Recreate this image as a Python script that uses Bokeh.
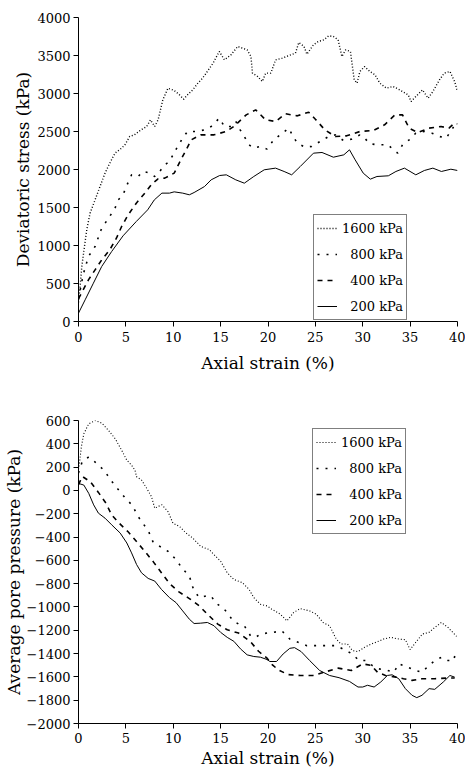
from bokeh.plotting import figure
from bokeh.layouts import column
from bokeh.models import Range1d, Legend, LegendItem, FixedTicker
from bokeh.embed import file_html
from bokeh.resources import INLINE

FONT = "DejaVu Serif"

# ---------------- data ----------------
series_labels = ["1600 kPa", "\u2007800 kPa", "\u2007400 kPa", "\u2007200 kPa"]
x_ticks = [0, 5, 10, 15, 20, 25, 30, 35, 40]
q_ticks = [0, 500, 1000, 1500, 2000, 2500, 3000, 3500, 4000]
u_ticks = [-2000, -1800, -1600, -1400, -1200, -1000, -800, -600, -400, -200, 0, 200, 400, 600]

# Deviatoric stress (kPa) vs axial strain (%)
q200_x = [0, 0.7, 1.57, 2.45, 3.5, 4.7, 6.1, 7.3, 8.0, 8.8, 9.6, 10.1, 11.0, 11.7, 12.2, 13.3, 14.0, 14.9,
          15.6, 16.6, 17.5, 18.5, 19.6, 20.8, 21.7, 22.5, 23.4, 24.8, 25.7, 26.9, 28.0, 28.6, 29.2, 30.05,
          30.8, 31.5, 32.7, 33.5, 34.4, 35.6, 36.5, 37.4, 38.3, 39.3, 40.0]
q200_y = [110, 285, 504, 724, 921, 1127, 1316, 1469, 1600, 1689, 1689, 1706, 1689, 1667, 1697, 1776, 1864, 1921,
          1930, 1864, 1820, 1908, 1996, 2018, 1974, 1930, 2039, 2215, 2224, 2162, 2193, 2259, 2127, 1952,
          1873, 1908, 1917, 1974, 2018, 1930, 1987, 2018, 1974, 2004, 1987]

q400_x = [0, 1.05, 1.75, 2.45, 3.3, 4.0, 4.55, 5.24, 6.1, 7.0, 7.76, 8.4, 9.1, 10.1, 10.8, 11.4, 11.9, 12.9,
          14.3, 15.6, 16.4, 17.7, 18.7, 19.75, 20.8, 21.85, 23.1, 24.3, 25.0, 26.0, 27.1, 28.3, 29.7, 31.1,
          32.3, 33.4, 34.2, 34.9, 35.8, 37.0, 38.25, 39.1, 39.65, 40.0]
q400_y = [300, 548, 680, 811, 943, 1096, 1250, 1403, 1557, 1689, 1811, 1877, 1886, 1952, 2127, 2268, 2390, 2456,
          2456, 2500, 2566, 2719, 2785, 2653, 2632, 2733, 2706, 2754, 2662, 2522, 2434, 2443, 2500, 2513,
          2588, 2719, 2719, 2544, 2487, 2544, 2566, 2544, 2610, 2600]

q800_x = [0, 0.5, 1.05, 1.75, 2.38, 3.15, 3.78, 4.2, 4.7, 5.17, 5.6, 6.3, 6.8, 7.34, 8.04, 8.57, 9.1, 9.6,
          10.07, 10.56, 11.0, 11.5, 12.4, 13.3, 14.0, 14.86, 15.4, 16.1, 16.6, 17.06, 17.5, 18.0, 18.5, 19.2,
          19.9, 20.6, 21.5, 22.2, 22.55, 23.1, 23.9, 24.6, 25.5, 26.4, 27.1, 27.96, 28.8, 29.7, 30.2, 30.75,
          31.6, 32.7, 33.2, 33.7, 34.2, 34.9, 35.6, 36.5, 37.3, 38.1, 38.8, 39.5, 39.8]
q800_y = [300, 620, 855, 987, 1206, 1360, 1469, 1601, 1667, 1811, 1930, 1908, 1974, 1960, 1908, 1974, 2061, 2105,
          2215, 2325, 2412, 2500, 2500, 2522, 2566, 2675, 2566, 2566, 2632, 2522, 2434, 2325, 2281, 2303,
          2268, 2390, 2478, 2544, 2456, 2346, 2294, 2303, 2368, 2434, 2456, 2381, 2399, 2456, 2412, 2338,
          2325, 2325, 2259, 2215, 2325, 2390, 2478, 2500, 2478, 2434, 2412, 2544, 2610]

q1600_x = [0, 0.17, 0.35, 0.63, 0.87, 1.22, 1.75, 2.27, 2.8, 3.3, 3.85, 4.55, 4.9, 5.4, 5.9, 6.6, 7.2, 7.6,
           8.04, 8.4, 8.9, 9.44, 10.1, 10.66, 11.1, 11.5, 12.06, 12.6, 13.1, 13.6, 14.2, 14.86, 15.4, 16.1,
           16.8, 17.3, 17.8, 18.2, 18.36, 18.9, 19.4, 19.75, 20.3, 20.8, 21.5, 22.4, 22.9, 23.25, 23.8, 24.1,
           24.8, 25.3, 25.9, 26.4, 26.9, 27.4, 27.8, 28.2, 28.7, 29.1, 29.4, 29.7, 30.2, 30.75, 31.3, 31.8,
           32.5, 33.2, 33.9, 34.8, 35.1, 35.6, 36.3, 36.9, 37.4, 38.1, 38.6, 39.2, 39.7, 40.0]
q1600_y = [250, 460, 724, 987, 1206, 1425, 1601, 1776, 1952, 2083, 2215, 2281, 2325, 2434, 2456, 2522, 2566, 2653,
           2566, 2653, 2917, 3070, 3040, 2982, 2925, 2982, 3048, 3136, 3202, 3290, 3399, 3553, 3443, 3509,
           3619, 3597, 3575, 3487, 3268, 3224, 3158, 3268, 3268, 3443, 3465, 3509, 3531, 3671, 3619, 3517,
           3641, 3684, 3706, 3759, 3750, 3706, 3487, 3575, 3553, 3180, 3136, 3290, 3355, 3290, 3246, 3136,
           3070, 3092, 3048, 2982, 2895, 2960, 3048, 2938, 3026, 3180, 3268, 3290, 3158, 3026]

# Average pore pressure (kPa) vs axial strain (%)
u200_x = [0, 0.56, 1.08, 1.6, 2.1, 2.8, 3.5, 4.4, 5.1, 5.6, 6.13, 6.65, 7.35, 8.05, 8.75, 9.6, 10.3, 11.0,
          11.7, 12.2, 12.9, 13.6, 14.3, 15.0, 15.7, 16.4, 17.1, 17.8, 18.5, 19.2, 19.9, 20.2, 20.9, 21.6,
          22.3, 22.8, 23.5, 24.4, 25.45, 26.5, 27.5, 28.6, 29.5, 30.0, 30.5, 31.2, 31.9, 32.6, 33.1, 33.8,
          34.5, 35.2, 35.7, 36.25, 37.0, 37.6, 38.5, 39.2, 39.7]
u200_y = [60, 46, -25, -124, -195, -238, -295, -366, -451, -536, -636, -707, -755, -778, -849, -920, -963, -1034,
          -1105, -1142, -1139, -1133, -1161, -1218, -1261, -1295, -1360, -1411, -1425, -1431, -1451, -1468,
          -1468, -1403, -1355, -1349, -1383, -1460, -1545, -1588, -1607, -1639, -1687, -1687, -1672, -1687,
          -1644, -1588, -1582, -1616, -1701, -1758, -1778, -1758, -1701, -1707, -1644, -1588, -1602]

u400_x = [0, 0.4, 1.25, 2.1, 2.9, 3.5, 4.3, 5.26, 6.1, 7.0, 7.9, 8.75, 9.6, 10.56, 11.7, 12.75, 13.6, 14.7,
          15.7, 16.9, 18.15, 19.0, 19.9, 20.5, 21.1, 22.1, 23.4, 24.75, 25.97, 27.4, 28.8, 30.0, 30.9, 31.55,
          32.4, 33.5, 34.3, 35.2, 36.25, 37.6, 38.9, 39.7]
u400_y = [50, 120, 74, -17, -110, -210, -281, -357, -437, -522, -613, -707, -798, -869, -928, -991, -1062, -1147,
          -1196, -1224, -1298, -1380, -1440, -1500, -1540, -1580, -1588, -1588, -1559, -1525, -1545, -1488,
          -1502, -1559, -1588, -1602, -1616, -1630, -1616, -1616, -1610, -1610]

u800_x = [0, 0.4, 1.08, 1.95, 2.75, 3.4, 4.15, 4.9, 5.7, 6.24, 6.83, 7.4, 7.88, 8.68, 9.44, 10.3, 10.9, 11.7,
          12.16, 12.75, 13.45, 14.0, 14.5, 15.2, 15.7, 16.3, 16.9, 17.5, 18.15, 18.7, 19.2, 19.9, 20.6, 21.45,
          22.3, 23.0, 24.1, 25.1, 26.15, 27.2, 27.9, 28.9, 29.6, 30.3, 31.0, 31.7, 32.6, 33.3, 33.8, 34.7,
          35.6, 36.25, 37.0, 37.6, 38.3, 39.0, 39.6, 39.8]
u800_y = [150, 250, 287, 231, 168, 89, 12, -62, -130, -218, -286, -352, -445, -485, -522, -593, -664, -735,
          -855, -920, -906, -906, -968, -1005, -1048, -1119, -1147, -1161, -1247, -1261, -1232, -1224, -1218,
          -1204, -1275, -1298, -1332, -1332, -1332, -1332, -1360, -1403, -1460, -1460, -1502, -1531, -1545,
          -1559, -1488, -1516, -1545, -1559, -1502, -1460, -1432, -1460, -1460, -1389]

u1600_x = [0, 0.1, 0.3, 0.56, 1.08, 1.78, 2.47, 3.17, 3.87, 4.56, 5.1, 5.6, 5.96, 6.13, 6.65, 7.2, 7.7, 8.05,
           8.4, 8.8, 9.44, 9.97, 10.66, 11.36, 12.06, 12.9, 13.8, 14.3, 15.0, 15.7, 16.4, 17.3, 18.0, 18.5,
           19.2, 19.9, 20.4, 21.3, 22.0, 22.7, 23.4, 24.4, 25.1, 25.8, 26.5, 27.2, 27.7, 28.4, 28.9, 29.5,
           30.2, 30.9, 31.55, 32.2, 32.95, 33.8, 34.5, 35.0, 35.6, 36.3, 37.0, 37.6, 38.3, 39.0, 39.5, 39.9]
u1600_y = [180, 231, 373, 486, 572, 600, 577, 515, 444, 344, 259, 216, 174, 117, 89, 18, -53, -153,
           -138, -124, -181, -281, -309, -366, -409, -480, -508, -551, -607, -707, -764, -792, -849, -920,
           -977, -991, -1019, -1062, -1119, -1048, -1014, -1034, -1062, -1133, -1161, -1275, -1318, -1318,
           -1374, -1383, -1346, -1318, -1298, -1275, -1261, -1275, -1281, -1366, -1303, -1232, -1218, -1176,
           -1133, -1176, -1218, -1252]

# ---------------- styling helpers ----------------
def style(p, yticks):
    p.xaxis.ticker = FixedTicker(ticks=x_ticks)
    p.yaxis.ticker = FixedTicker(ticks=yticks)
    p.xgrid.visible = False
    p.ygrid.visible = False
    p.outline_line_color = None
    for ax in (p.xaxis, p.yaxis):
        ax.axis_line_color = "black"
        ax.axis_line_width = 1
        ax.major_tick_line_color = "black"
        ax.major_tick_in = 0
        ax.major_tick_out = 5
        ax.minor_tick_line_color = None
        ax.major_label_text_font = FONT
        ax.major_label_text_font_size = "13px"
        ax.major_label_text_color = "black"
        ax.axis_label_text_font = FONT
        ax.axis_label_text_font_size = "17px"
        ax.axis_label_text_font_style = "normal"
        ax.axis_label_text_color = "black"
    p.xaxis.major_label_standoff = 5
    p.yaxis.major_label_standoff = 3


def add_legend(p, renderers, loc):
    items = [LegendItem(label=lab, renderers=[r]) for lab, r in zip(series_labels, renderers)]
    lg = Legend(items=items, location=loc)
    lg.border_line_color = "black"
    lg.border_line_width = 1
    lg.background_fill_color = "white"
    lg.background_fill_alpha = 1
    lg.padding = 3
    lg.spacing = 6
    lg.margin = 0
    lg.glyph_width = 20
    lg.glyph_height = 20
    lg.label_height = 20
    lg.label_standoff = 5
    lg.label_text_font = FONT
    lg.label_text_font_size = "13px"
    lg.label_text_color = "black"
    p.add_layout(lg)


# ---------------- top: deviatoric stress ----------------
p1 = figure(width=465, height=386, output_backend="svg", toolbar_location=None,
            x_range=Range1d(0, 40), y_range=Range1d(0, 4000),
            min_border_left=74, min_border_right=8, min_border_top=17, min_border_bottom=65)
style(p1, q_ticks)
p1.xaxis.axis_label = "Axial strain (%)"
p1.yaxis.axis_label = "Deviatoric stress (kPa)"
p1.xaxis.axis_label_standoff = 8
p1.yaxis.axis_label_standoff = 1

r1 = p1.line(q1600_x, q1600_y, line_color="black", line_width=1.4, line_dash="1 2")
r2 = p1.line(q800_x, q800_y, line_color="black", line_width=1.6, line_dash="2 7")
r3 = p1.line(q400_x, q400_y, line_color="black", line_width=1.6, line_dash="5 5")
r4 = p1.line(q200_x, q200_y, line_color="black", line_width=1)
add_legend(p1, [r1, r2, r3, r4], (235, 1))

# ---------------- bottom: pore pressure ----------------
p2 = figure(width=465, height=384, output_backend="svg", toolbar_location=None,
            x_range=Range1d(0, 40), y_range=Range1d(-2000, 600),
            min_border_left=74, min_border_right=7, min_border_top=34, min_border_bottom=45)
style(p2, u_ticks)
p2.xaxis.axis_label = "Axial strain (%)"
p2.yaxis.axis_label = "Average pore pressure (kPa)"
p2.xaxis.major_label_standoff = 4
p2.xaxis.axis_label_standoff = 2
p2.yaxis.axis_label_standoff = 0

s1 = p2.line(u1600_x, u1600_y, line_color="black", line_width=1.1, line_dash="1 2")
s2 = p2.line(u800_x, u800_y, line_color="black", line_width=1.6, line_dash="2 7")
s3 = p2.line(u400_x, u400_y, line_color="black", line_width=1.6, line_dash="5 5")
s4 = p2.line(u200_x, u200_y, line_color="black", line_width=1)
add_legend(p2, [s1, s2, s3, s4], (234, 189))

layout = column(p1, p2, spacing=0)
open("out.html", "w").write(file_html(layout, INLINE))
